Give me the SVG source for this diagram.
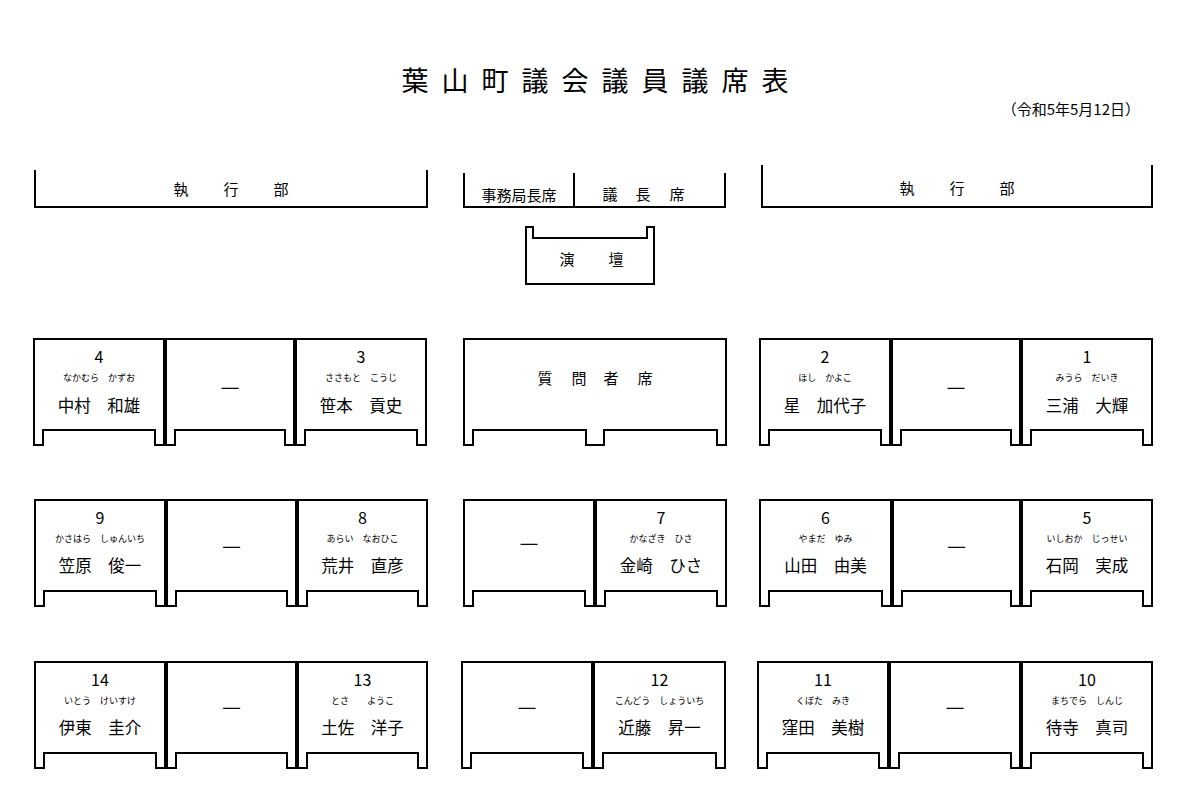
<svg xmlns="http://www.w3.org/2000/svg" width="1200" height="796" viewBox="0 0 1200 796">
<style>
text{font-family:"Noto Sans CJK JP","Noto Sans",sans-serif;fill:#000}
.desk{fill:#fff;stroke:#000;stroke-width:2;stroke-linejoin:miter}
.br{fill:none;stroke:#000;stroke-width:2}
.num{font-size:16px;text-anchor:middle}
.kana{font-size:9px;text-anchor:middle}
.name{font-size:16.5px;text-anchor:middle}
.dash{font-size:19px;text-anchor:middle;stroke:#000;stroke-width:0.6}
.lbl{font-size:15px;text-anchor:middle}
.title{font-size:27px;text-anchor:middle}
.date{font-size:15px;text-anchor:end}
</style>
<rect x="0" y="0" width="1200" height="796" fill="#fff"/>
<g id="title"><text class="title" x="415 455 495 535 575 615 655 695 735 775" y="91">葉山町議会議員議席表</text></g>
<g id="date"><text class="date" x="1140" y="115">（令和5年5月12日）</text></g>

<g id="exec-left"><path class="br" d="M35 170 V207 H427 V170"/><text class="lbl" x="181 231 281" y="195">執行部</text></g>
<g id="chair"><path class="br" d="M464 173 V207 H725 V173 M574 173 V207"/><text class="lbl" x="519" y="201">事務局長席</text><text class="lbl" x="610 643 677" y="200">議長席</text></g>
<g id="exec-right"><path class="br" d="M762 165 V207 H1152 V165"/><text class="lbl" x="907 957 1007" y="194">執行部</text></g>
<g id="podium"><path class="desk" d="M526 227 V284 H654 V227 H647 V238 H533 V227 Z"/><text class="lbl" x="567 616" y="265">演壇</text></g>

<!-- Row 1 -->
<g id="seat-4"><path class="desk" d="M34 339 H164 V445 H155 V430 H43 V445 H34 Z"/><text class="num" x="99" y="363">4</text><text class="kana" x="99" y="381">なかむら　かずお</text><text class="name" x="99" y="412">中村　和雄</text></g>
<g id="seat-r1b"><path class="desk" d="M166 339 H294 V445 H285 V430 H175 V445 H166 Z"/><text class="dash" x="230" y="396">―</text></g>
<g id="seat-3"><path class="desk" d="M296 339 H426 V445 H417 V430 H305 V445 H296 Z"/><text class="num" x="361" y="363">3</text><text class="kana" x="361" y="381">ささもと　こうじ</text><text class="name" x="361" y="412">笹本　貢史</text></g>
<g id="questioner"><path class="desk" d="M464 339 H726 V445 H717 V430 H604 V445 H586 V430 H473 V445 H464 Z"/><text class="lbl" x="545 579 611 645" y="384">質問者席</text></g>
<g id="seat-2"><path class="desk" d="M760 339 H890 V445 H881 V430 H769 V445 H760 Z"/><text class="num" x="825" y="363">2</text><text class="kana" x="825" y="381">ほし　かよこ</text><text class="name" x="825" y="412">星　加代子</text></g>
<g id="seat-r1e"><path class="desk" d="M892 339 H1020 V445 H1011 V430 H901 V445 H892 Z"/><text class="dash" x="956" y="396">―</text></g>
<g id="seat-1"><path class="desk" d="M1022 339 H1152 V445 H1143 V430 H1031 V445 H1022 Z"/><text class="num" x="1087" y="363">1</text><text class="kana" x="1087" y="381">みうら　だいき</text><text class="name" x="1087" y="412">三浦　大輝</text></g>

<!-- Row 2 -->
<g id="seat-9"><path class="desk" d="M35 500 H165 V606 H156 V591 H44 V606 H35 Z"/><text class="num" x="100" y="524">9</text><text class="kana" x="100" y="542">かさはら　しゅんいち</text><text class="name" x="100" y="572">笠原　俊一</text></g>
<g id="seat-r2b"><path class="desk" d="M167 500 H296 V606 H287 V591 H176 V606 H167 Z"/><text class="dash" x="231.5" y="555">―</text></g>
<g id="seat-8"><path class="desk" d="M298 500 H427 V606 H418 V591 H307 V606 H298 Z"/><text class="num" x="362.5" y="524">8</text><text class="kana" x="362.5" y="542">あらい　なおひこ</text><text class="name" x="362.5" y="572">荒井　直彦</text></g>
<g id="seat-r2d"><path class="desk" d="M464 500 H594 V606 H585 V591 H473 V606 H464 Z"/><text class="dash" x="529" y="552">―</text></g>
<g id="seat-7"><path class="desk" d="M596 500 H726 V606 H717 V591 H605 V606 H596 Z"/><text class="num" x="661" y="524">7</text><text class="kana" x="661" y="542">かなざき　ひさ</text><text class="name" x="661" y="572">金崎　ひさ</text></g>
<g id="seat-6"><path class="desk" d="M760 500 H891 V606 H882 V591 H769 V606 H760 Z"/><text class="num" x="825.5" y="524">6</text><text class="kana" x="825.5" y="542">やまだ　ゆみ</text><text class="name" x="825.5" y="572">山田　由美</text></g>
<g id="seat-r2g"><path class="desk" d="M893 500 H1020 V606 H1011 V591 H902 V606 H893 Z"/><text class="dash" x="956.5" y="555">―</text></g>
<g id="seat-5"><path class="desk" d="M1022 500 H1152 V606 H1143 V591 H1031 V606 H1022 Z"/><text class="num" x="1087" y="524">5</text><text class="kana" x="1087" y="542">いしおか　じっせい</text><text class="name" x="1087" y="572">石岡　実成</text></g>

<!-- Row 3 -->
<g id="seat-14"><path class="desk" d="M35 662 H165 V768 H156 V753 H44 V768 H35 Z"/><text class="num" x="100" y="686">14</text><text class="kana" x="100" y="704">いとう　けいすけ</text><text class="name" x="100" y="734">伊東　圭介</text></g>
<g id="seat-r3b"><path class="desk" d="M167 662 H296 V768 H287 V753 H176 V768 H167 Z"/><text class="dash" x="231.5" y="716">―</text></g>
<g id="seat-13"><path class="desk" d="M298 662 H427 V768 H418 V753 H307 V768 H298 Z"/><text class="num" x="362.5" y="686">13</text><text class="kana" x="362.5" y="704">とさ　　ようこ</text><text class="name" x="362.5" y="734">土佐　洋子</text></g>
<g id="seat-r3d"><path class="desk" d="M462 662 H592 V768 H583 V753 H471 V768 H462 Z"/><text class="dash" x="527" y="716">―</text></g>
<g id="seat-12"><path class="desk" d="M594 662 H725 V768 H716 V753 H603 V768 H594 Z"/><text class="num" x="659.5" y="686">12</text><text class="kana" x="659.5" y="704">こんどう　しょういち</text><text class="name" x="659.5" y="734">近藤　昇一</text></g>
<g id="seat-11"><path class="desk" d="M758 662 H888 V768 H879 V753 H767 V768 H758 Z"/><text class="num" x="823" y="686">11</text><text class="kana" x="823" y="704">くぼた　みき</text><text class="name" x="823" y="734">窪田　美樹</text></g>
<g id="seat-r3g"><path class="desk" d="M890 662 H1020 V768 H1011 V753 H899 V768 H890 Z"/><text class="dash" x="955" y="716">―</text></g>
<g id="seat-10"><path class="desk" d="M1022 662 H1152 V768 H1143 V753 H1031 V768 H1022 Z"/><text class="num" x="1087" y="686">10</text><text class="kana" x="1087" y="704">まちでら　しんじ</text><text class="name" x="1087" y="734">待寺　真司</text></g>
</svg>
